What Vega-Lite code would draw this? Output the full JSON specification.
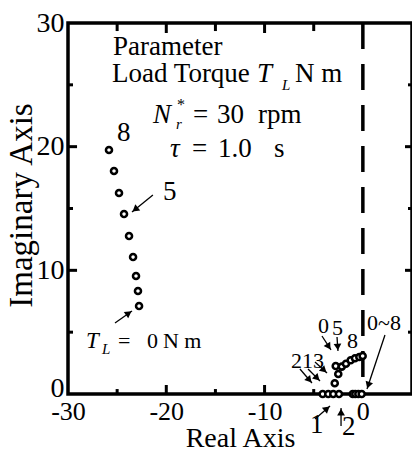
{
  "$schema": "https://vega.github.io/schema/vega-lite/v6.json",
  "width": 344,
  "height": 371,
  "autosize": "none",
  "padding": {"left": 68, "top": 23, "right": 0, "bottom": 58},
  "background": "white",
  "config": {
    "view": {"stroke": "black", "strokeWidth": 3.5},
    "font": "Liberation Serif",
    "axis": {"domain": false, "grid": false, "labelColor": "black", "titleColor": "black", "labelFont": "Liberation Serif", "titleFont": "Liberation Serif", "titleFontWeight": "normal"}
  },
  "datasets": {
    "poles": [
      {"branch": "mechanical", "TL": 0, "re": -22.77, "im": 7.12},
      {"branch": "mechanical", "TL": 1, "re": -22.88, "im": 8.33},
      {"branch": "mechanical", "TL": 2, "re": -23.08, "im": 9.54},
      {"branch": "mechanical", "TL": 3, "re": -23.38, "im": 11.08},
      {"branch": "mechanical", "TL": 4, "re": -23.79, "im": 12.78},
      {"branch": "mechanical", "TL": 5, "re": -24.30, "im": 14.56},
      {"branch": "mechanical", "TL": 6, "re": -24.81, "im": 16.25},
      {"branch": "mechanical", "TL": 7, "re": -25.32, "im": 18.03},
      {"branch": "mechanical", "TL": 8, "re": -25.83, "im": 19.73},
      {"branch": "upper", "re": -2.86, "im": 0.87},
      {"branch": "upper", "re": -2.50, "im": 1.62},
      {"branch": "upper", "re": -2.76, "im": 2.26},
      {"branch": "upper", "re": -2.15, "im": 2.21},
      {"branch": "upper", "re": -1.72, "im": 2.45},
      {"branch": "upper", "re": -1.24, "im": 2.73},
      {"branch": "upper", "re": -0.80, "im": 2.89},
      {"branch": "upper", "re": -0.36, "im": 2.99},
      {"branch": "upper", "re": -0.02, "im": 3.07},
      {"branch": "real", "re": -4.09, "im": 0},
      {"branch": "real", "re": -3.52, "im": 0},
      {"branch": "real", "re": -3.01, "im": 0},
      {"branch": "real", "re": -2.43, "im": 0},
      {"branch": "real", "re": -1.03, "im": 0},
      {"branch": "real", "re": -0.77, "im": 0},
      {"branch": "real", "re": -0.46, "im": 0},
      {"branch": "real", "re": -0.12, "im": 0}
    ],
    "stability": [
      {"re": 0, "imTop": 30, "imBottom": 0}
    ],
    "xTicks": [
      {"v": -20, "from": 0, "to": 0.73},
      {"v": -10, "from": 0, "to": 0.73},
      {"v": -25, "from": 0, "to": 0.40},
      {"v": -15, "from": 0, "to": 0.40},
      {"v": -5, "from": 0, "to": 0.40},
      {"v": -20, "from": 30, "to": 29.19},
      {"v": -10, "from": 30, "to": 29.19},
      {"v": -25, "from": 30, "to": 29.35},
      {"v": -15, "from": 30, "to": 29.35},
      {"v": -5, "from": 30, "to": 29.35}
    ],
    "yTicks": [
      {"v": 10, "from": -30, "to": -29.08},
      {"v": 20, "from": -30, "to": -29.08},
      {"v": 5, "from": -30, "to": -29.49},
      {"v": 15, "from": -30, "to": -29.49},
      {"v": 25, "from": -30, "to": -29.49},
      {"v": 10, "from": 5, "to": 4.29},
      {"v": 20, "from": 5, "to": 4.29},
      {"v": 5, "from": 5, "to": 4.59},
      {"v": 15, "from": 5, "to": 4.59},
      {"v": 25, "from": 5, "to": 4.59}
    ],
    "arrows": [
      {"x": -21.36, "y": 16.09, "x2": -23.49, "y2": 14.72, "hx": -23.17, "hy": 14.92, "ang": 231},
      {"x": -25.22, "y": 5.74, "x2": -23.49, "y2": 6.71, "hx": -23.82, "hy": 6.53, "ang": 55},
      {"x": -6.40, "y": 2.02, "x2": -5.18, "y2": 0.89, "hx": -5.44, "hy": 1.13, "ang": 139},
      {"x": -5.58, "y": 2.02, "x2": -4.36, "y2": 1.05, "hx": -4.65, "hy": 1.28, "ang": 135},
      {"x": -4.87, "y": 2.59, "x2": -3.65, "y2": 1.70, "hx": -3.95, "hy": 1.92, "ang": 133},
      {"x": -4.16, "y": 4.69, "x2": -3.24, "y2": 3.56, "hx": -3.47, "hy": 3.83, "ang": 147},
      {"x": -2.63, "y": 4.61, "x2": -2.53, "y2": 3.48, "hx": -2.56, "hy": 3.80, "ang": 176},
      {"x": 2.25, "y": 4.77, "x2": 0.42, "y2": 0.40, "hx": 0.55, "hy": 0.71, "ang": 198},
      {"x": -4.87, "y": -2.02, "x2": -3.34, "y2": -0.97, "hx": -3.65, "hy": -1.18, "ang": 49},
      {"x": -2.22, "y": -2.59, "x2": -2.22, "y2": -1.13, "hx": -2.22, "hy": -1.46, "ang": 0}
    ],
    "textBig": [
      {"x": -25.42, "y": 27.45, "t": "Parameter"},
      {"x": -25.52, "y": 25.23, "t": "Load Torque"},
      {"x": -6.90, "y": 25.23, "t": "N m"},
      {"x": -17.28, "y": 21.95, "t": "="},
      {"x": -14.84, "y": 21.95, "t": "30"},
      {"x": -10.68, "y": 21.95, "t": "rpm"},
      {"x": -17.38, "y": 19.16, "t": "="},
      {"x": -14.74, "y": 19.16, "t": "1.0"},
      {"x": -9.03, "y": 19.16, "t": "s"},
      {"x": -25.01, "y": 20.46, "t": "8"},
      {"x": -20.34, "y": 15.69, "t": "5"},
      {"x": -5.38, "y": -3.15, "t": "1"},
      {"x": -2.12, "y": -3.32, "t": "2"}
    ],
    "textMid": [
      {"x": -24.91, "y": 3.72, "t": "="},
      {"x": -21.96, "y": 3.72, "t": "0"},
      {"x": -20.34, "y": 3.72, "t": "N m"},
      {"x": -7.31, "y": 2.10, "t": "213"},
      {"x": -4.56, "y": 4.93, "t": "0"},
      {"x": -3.14, "y": 4.77, "t": "5"},
      {"x": -1.61, "y": 3.72, "t": "8"},
      {"x": 0.42, "y": 5.18, "t": "0~8"}
    ],
    "italicBig": [
      {"x": -10.77, "y": 25.23, "t": "T"},
      {"x": -21.36, "y": 21.95, "t": "N"},
      {"x": -19.62, "y": 19.16, "t": "τ"}
    ],
    "italicMid": [
      {"x": -28.17, "y": 3.72, "t": "T"}
    ],
    "subs": [
      {"x": -8.23, "y": 24.58, "t": "L"},
      {"x": -19.01, "y": 21.43, "t": "r"},
      {"x": -26.54, "y": 3.23, "t": "L"}
    ],
    "sups": [
      {"x": -18.91, "y": 22.97, "t": "*"}
    ]
  },
  "resolve": {"axis": {"x": "independent", "y": "independent"}},
  "layer": [
    {
      "data": {"name": "stability"},
      "mark": {"type": "rule", "strokeDash": [26, 15], "strokeWidth": 3.5, "color": "black"},
      "encoding": {
        "x": {"field": "re", "type": "quantitative", "scale": {"domain": [-30, 5], "nice": false, "zero": false}, "axis": null},
        "y": {"field": "imTop", "type": "quantitative", "scale": {"domain": [0, 30], "nice": false, "zero": false}, "axis": null},
        "y2": {"field": "imBottom"}
      }
    },
    {
      "data": {"name": "xTicks"},
      "mark": {"type": "rule", "color": "black", "strokeWidth": 3},
      "encoding": {
        "x": {"field": "v", "type": "quantitative", "scale": {"domain": [-30, 5], "nice": false, "zero": false}, "axis": null},
        "y": {"field": "from", "type": "quantitative", "scale": {"domain": [0, 30], "nice": false, "zero": false}, "axis": null},
        "y2": {"field": "to"}
      }
    },
    {
      "data": {"name": "yTicks"},
      "mark": {"type": "rule", "color": "black", "strokeWidth": 3},
      "encoding": {
        "y": {"field": "v", "type": "quantitative", "scale": {"domain": [0, 30], "nice": false, "zero": false}, "axis": null},
        "x": {"field": "from", "type": "quantitative", "scale": {"domain": [-30, 5], "nice": false, "zero": false}, "axis": null},
        "x2": {"field": "to"}
      }
    },
    {
      "data": {"name": "arrows"},
      "mark": {"type": "rule", "strokeWidth": 1.3, "color": "black"},
      "encoding": {
        "x": {"field": "x", "type": "quantitative", "scale": {"domain": [-30, 5], "nice": false, "zero": false}, "axis": null},
        "y": {"field": "y", "type": "quantitative", "scale": {"domain": [0, 30], "nice": false, "zero": false}, "axis": null},
        "x2": {"field": "x2"},
        "y2": {"field": "y2"}
      }
    },
    {
      "data": {"name": "arrows"},
      "mark": {"type": "point", "shape": "triangle-up", "filled": true, "color": "black", "size": 60, "opacity": 1},
      "encoding": {
        "x": {"field": "hx", "type": "quantitative", "scale": {"domain": [-30, 5], "nice": false, "zero": false}, "axis": null},
        "y": {"field": "hy", "type": "quantitative", "scale": {"domain": [0, 30], "nice": false, "zero": false}, "axis": null},
        "angle": {"field": "ang", "type": "quantitative", "scale": null}
      }
    },
    {
      "data": {"name": "poles"},
      "mark": {"type": "point", "shape": "circle", "filled": true, "fill": "white", "stroke": "black", "strokeWidth": 2.6, "size": 36, "opacity": 1},
      "encoding": {
        "x": {"field": "re", "type": "quantitative", "scale": {"domain": [-30, 5], "nice": false, "zero": false},
          "axis": {"orient": "bottom", "values": [-30, -20, -10, 0], "labelExpr": "'' + datum.value", "ticks": false, "labelFontSize": 26, "labelPadding": 4, "labelFlush": false, "labelOverlap": false, "labelBound": false, "title": "Real Axis", "titleFontSize": 28, "titleBaseline": "alphabetic", "titleY": 52}},
        "y": {"field": "im", "type": "quantitative", "scale": {"domain": [0, 30], "nice": false, "zero": false},
          "axis": {"orient": "left", "values": [0, 10, 20, 30], "ticks": false, "labelFontSize": 28, "labelPadding": 4, "labelOffset": {"condition": {"test": "datum.value === 0", "value": -6}, "value": 0}, "labelFlush": false, "labelOverlap": false, "labelBound": false, "title": "Imaginary Axis", "titleFontSize": 33, "titleBaseline": "alphabetic", "titleX": -37, "titleY": 182}}
      }
    },
    {
      "data": {"name": "textBig"},
      "mark": {"type": "text", "align": "left", "baseline": "alphabetic", "font": "Liberation Serif", "fontSize": 27, "color": "black"},
      "encoding": {
        "x": {"field": "x", "type": "quantitative", "scale": {"domain": [-30, 5], "nice": false, "zero": false}, "axis": null},
        "y": {"field": "y", "type": "quantitative", "scale": {"domain": [0, 30], "nice": false, "zero": false}, "axis": null},
        "text": {"field": "t"}
      }
    },
    {
      "data": {"name": "textMid"},
      "mark": {"type": "text", "align": "left", "baseline": "alphabetic", "font": "Liberation Serif", "fontSize": 22, "color": "black"},
      "encoding": {
        "x": {"field": "x", "type": "quantitative", "scale": {"domain": [-30, 5], "nice": false, "zero": false}, "axis": null},
        "y": {"field": "y", "type": "quantitative", "scale": {"domain": [0, 30], "nice": false, "zero": false}, "axis": null},
        "text": {"field": "t"}
      }
    },
    {
      "data": {"name": "italicBig"},
      "mark": {"type": "text", "align": "left", "baseline": "alphabetic", "font": "Liberation Serif", "fontStyle": "italic", "fontSize": 27, "color": "black"},
      "encoding": {
        "x": {"field": "x", "type": "quantitative", "scale": {"domain": [-30, 5], "nice": false, "zero": false}, "axis": null},
        "y": {"field": "y", "type": "quantitative", "scale": {"domain": [0, 30], "nice": false, "zero": false}, "axis": null},
        "text": {"field": "t"}
      }
    },
    {
      "data": {"name": "italicMid"},
      "mark": {"type": "text", "align": "left", "baseline": "alphabetic", "font": "Liberation Serif", "fontStyle": "italic", "fontSize": 23, "color": "black"},
      "encoding": {
        "x": {"field": "x", "type": "quantitative", "scale": {"domain": [-30, 5], "nice": false, "zero": false}, "axis": null},
        "y": {"field": "y", "type": "quantitative", "scale": {"domain": [0, 30], "nice": false, "zero": false}, "axis": null},
        "text": {"field": "t"}
      }
    },
    {
      "data": {"name": "subs"},
      "mark": {"type": "text", "align": "left", "baseline": "alphabetic", "font": "Liberation Serif", "fontStyle": "italic", "fontSize": 15, "color": "black"},
      "encoding": {
        "x": {"field": "x", "type": "quantitative", "scale": {"domain": [-30, 5], "nice": false, "zero": false}, "axis": null},
        "y": {"field": "y", "type": "quantitative", "scale": {"domain": [0, 30], "nice": false, "zero": false}, "axis": null},
        "text": {"field": "t"}
      }
    },
    {
      "data": {"name": "sups"},
      "mark": {"type": "text", "align": "left", "baseline": "alphabetic", "font": "Liberation Serif", "fontSize": 16, "color": "black"},
      "encoding": {
        "x": {"field": "x", "type": "quantitative", "scale": {"domain": [-30, 5], "nice": false, "zero": false}, "axis": null},
        "y": {"field": "y", "type": "quantitative", "scale": {"domain": [0, 30], "nice": false, "zero": false}, "axis": null},
        "text": {"field": "t"}
      }
    }
  ]
}
